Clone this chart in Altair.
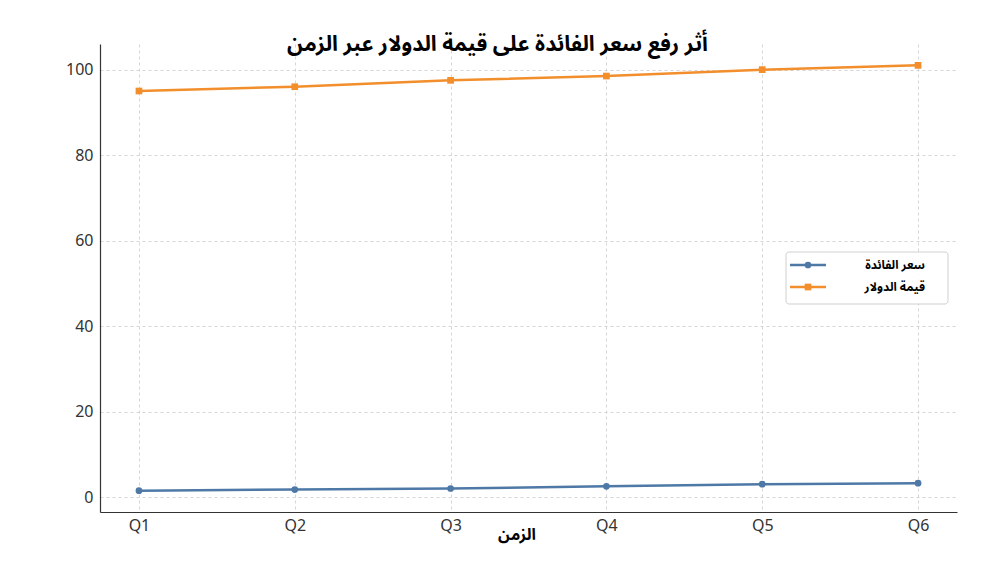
import altair as alt
import pandas as pd

quarters = ["Q1", "Q2", "Q3", "Q4", "Q5", "Q6"]
rate_name = "سعر الفائدة"
dollar_name = "قيمة الدولار"
rate_values = [1.5, 1.75, 2.0, 2.5, 3.0, 3.25]
dollar_values = [95, 96, 97.5, 98.5, 100, 101]
series_names = [rate_name, dollar_name]
series_colors = ["#4e79a7", "#f28e2b"]
series_shapes = ["circle", "square"]
y_ticks = [0, 20, 40, 60, 80, 100]

title_text = "أثر رفع سعر الفائدة على قيمة الدولار عبر الزمن"
x_title = "الزمن"

ar_font = "Noto Sans Arabic, Noto Naskh Arabic, DejaVu Sans"
num_font = "Noto Sans"

rows = []
for q, v in zip(quarters, rate_values):
    rows.append({"quarter": q, "value": v, "series": rate_name})
for q, v in zip(quarters, dollar_values):
    rows.append({"quarter": q, "value": v, "series": dollar_name})
df = pd.DataFrame(rows)

W, H = 857, 468

x_enc = alt.X(
    "quarter:N",
    sort=quarters,
    scale=alt.Scale(type="point", padding=0.25),
    axis=alt.Axis(
        title=x_title,
        titleFont=ar_font,
        titleFontSize=16,
        titleFontWeight="bold",
        titleColor="#000000",
        titlePadding=0,
        titleX=W / 2 - 12,
        titleY=22,
        titleBaseline="middle",
        labelAngle=0,
        labelPadding=5,
        grid=True,
    ),
)
y_enc = alt.Y(
    "value:Q",
    scale=alt.Scale(domain=[-3.5, 106], nice=False, zero=False),
    axis=alt.Axis(title=None, values=y_ticks, grid=True, labelPadding=7),
)
color_enc = alt.Color(
    "series:N",
    scale=alt.Scale(domain=series_names, range=series_colors),
    legend=None,
)
shape_enc = alt.Shape(
    "series:N",
    scale=alt.Scale(domain=series_names, range=series_shapes),
    legend=None,
)

base = alt.Chart(df)
lines = base.mark_line(strokeWidth=2.5).encode(x=x_enc, y=y_enc, color=color_enc)
points = base.mark_point(filled=True, opacity=1, size=45).encode(
    x=x_enc, y=y_enc, color=color_enc, shape=shape_enc
)

# legend box (manual)
leg_df = pd.DataFrame({"dummy": [0]})
leg_box = alt.Chart(leg_df).mark_rect(
    fill="white", stroke="#cccccc", strokeWidth=1, cornerRadius=3, opacity=0.9
).encode(
    x=alt.value(686), x2=alt.value(848), y=alt.value(208), y2=alt.value(260)
)
leg_layers = [leg_box]
for i, (name, col, shp) in enumerate(zip(series_names, series_colors, series_shapes)):
    yy = 221 + i * 22
    leg_layers.append(
        alt.Chart(leg_df).mark_rule(color=col, strokeWidth=2.5).encode(
            x=alt.value(690), x2=alt.value(726), y=alt.value(yy)
        )
    )
    leg_layers.append(
        alt.Chart(leg_df).mark_point(filled=True, opacity=1, color=col, shape=shp, size=45).encode(
            x=alt.value(708), y=alt.value(yy)
        )
    )
    leg_layers.append(
        alt.Chart(leg_df).mark_text(
            text=name, font=ar_font, fontSize=12, fontWeight="bold",
            align="right", baseline="middle", color="#000000"
        ).encode(x=alt.value(825), y=alt.value(yy))
    )

chart = alt.layer(lines, points, *leg_layers).properties(
    width=W,
    height=H,
    title=alt.TitleParams(
        text=title_text,
        font=ar_font,
        fontSize=21.5,
        fontWeight="bold",
        color="#000000",
        anchor="middle",
        dx=-31,
        offset=0,
        dy=11,
    ),
    autosize=alt.AutoSizeParams(type="none"),
    padding={"left": 92, "top": 36, "right": 40, "bottom": 40},
).configure_view(stroke=None).configure_axis(
    domainColor="#333333",
    domainWidth=1.2,
    ticks=False,
    labelFont=num_font,
    labelFontSize=16,
    labelColor="#333333",
    gridColor="#cccccc",
    gridDash=[3, 3],
    gridWidth=0.8,
)

chart.save("out.html", embed_options={"renderer": "svg", "actions": False})
